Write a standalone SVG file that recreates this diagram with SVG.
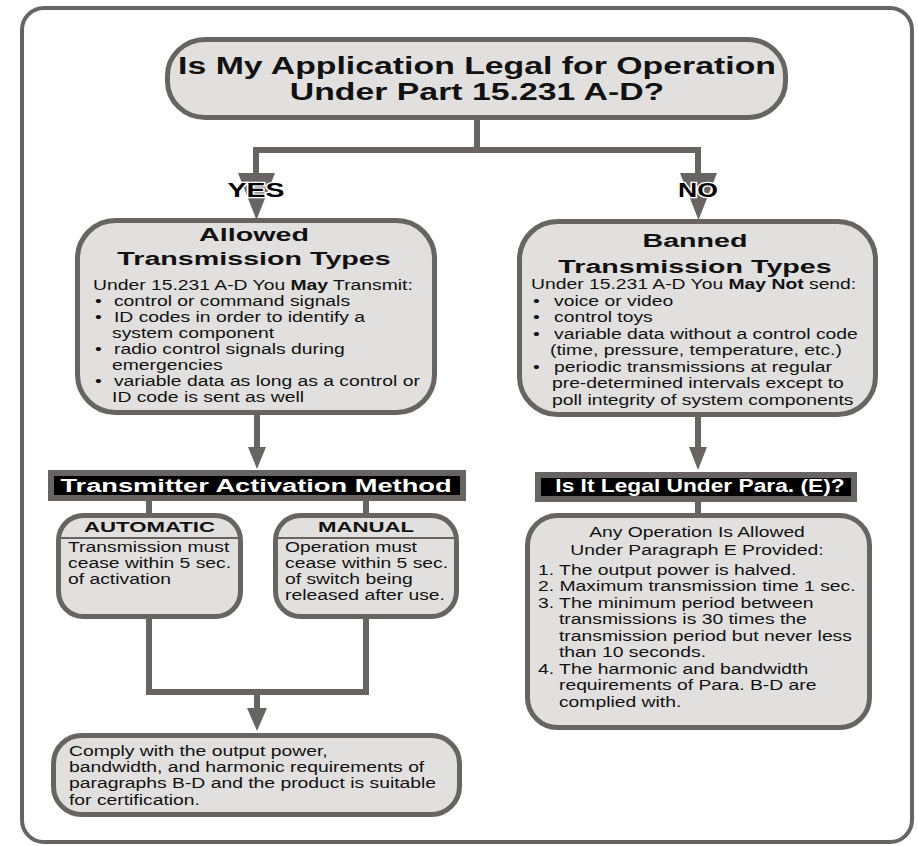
<svg xmlns="http://www.w3.org/2000/svg" width="918" height="846" viewBox="0 0 918 846">
<style>
.box{fill:#e1e0de;stroke:#676463;stroke-width:5}
.bar{fill:#000;stroke:#676463;stroke-width:6}
.ln{fill:none;stroke:#676463;stroke-width:6}
.ah{fill:#676463}
.sep{stroke:#676463;stroke-width:2}
text{font-family:"Liberation Sans",Arial,Helvetica,sans-serif;fill:#111}
.body{font-size:14px}
.ttl{font-size:23px;font-weight:bold;text-anchor:middle}
.hd{font-size:18.5px;font-weight:bold;text-anchor:middle}
.wh{fill:#fff;font-weight:bold;text-anchor:middle}
.sub{font-size:15px;font-weight:bold;text-anchor:middle}
.yn{font-size:20px;font-weight:bold;text-anchor:middle;stroke:#fff;stroke-width:2.5;paint-order:stroke;fill:#000}
.c{text-anchor:middle}
</style>
<rect id="frame" x="22" y="8" width="890" height="834" rx="22" fill="#fff" stroke="#676463" stroke-width="4"/>

<g id="connectors">
<polyline class="ln" points="477,118 477,150 256,150 256,180"/>
<polyline class="ln" points="477,150 698,150 698,180"/>
<polygon class="ah" points="238,173 275,173 256.5,220"/>
<polygon class="ah" points="680,173 717,173 698.5,220"/>
<line class="ln" x1="257" y1="413" x2="257" y2="450"/>
<polygon class="ah" points="248,447 266,447 257,469"/>
<line class="ln" x1="698" y1="415" x2="698" y2="450"/>
<polygon class="ah" points="689,447 707,447 698,470"/>
<line class="ln" x1="149" y1="500" x2="149" y2="515"/>
<line class="ln" x1="366" y1="500" x2="366" y2="515"/>
<line class="ln" x1="698" y1="501" x2="698" y2="515"/>
<polyline class="ln" points="149,617 149,692 366,692 366,617"/>
<line class="ln" x1="257" y1="692" x2="257" y2="712"/>
<polygon class="ah" points="247,708 267,708 257,731"/>
<text class="yn" transform="matrix(1.42 0 0 1 256 0)" x="0" y="197">YES</text>
<text class="yn" transform="matrix(1.33 0 0 1 698 0)" x="0" y="197">NO</text>
</g>

<g id="title">
<rect class="box" x="167.5" y="39.5" width="618" height="78" rx="38" ry="36"/>
<g transform="matrix(1.47 0 0 1 477 0)">
<text class="ttl" x="0" y="74">Is My Application Legal for Operation</text>
<text class="ttl" x="0" y="100">Under Part 15.231 A-D?</text>
</g>
</g>

<g id="allowed">
<rect class="box" x="77.5" y="220.5" width="357" height="192" rx="38"/>
<g transform="matrix(1.55 0 0 1 254 0)">
<text class="hd" x="0" y="241">Allowed</text>
<text class="hd" x="0" y="265.5">Transmission Types</text>
</g>
<g class="body" transform="matrix(1.38 0 0 1 93 0)">
<text class="body" x="0" y="290">Under 15.231 A-D You <tspan font-weight="bold">May</tspan> Transmit:</text>
<text class="body" x="1.4" y="306">•</text><text class="body" x="15.2" y="306">control or command signals</text>
<text class="body" x="1.4" y="322">•</text><text class="body" x="15.2" y="322">ID codes in order to identify a</text>
<text class="body" x="13.8" y="338">system component</text>
<text class="body" x="1.4" y="354">•</text><text class="body" x="15.2" y="354">radio control signals during</text>
<text class="body" x="13.8" y="370">emergencies</text>
<text class="body" x="1.4" y="386">•</text><text class="body" x="15.2" y="386">variable data as long as a control or</text>
<text class="body" x="13.8" y="402">ID code is sent as well</text>
</g>
</g>

<g id="banned">
<rect class="box" x="519.5" y="221.5" width="356" height="193" rx="38"/>
<g transform="matrix(1.55 0 0 1 695 0)">
<text class="hd" x="0" y="247">Banned</text>
<text class="hd" x="0" y="273">Transmission Types</text>
</g>
<g transform="matrix(1.38 0 0 1 531 0)">
<text class="body" x="0" y="289">Under 15.231 A-D You <tspan font-weight="bold">May Not</tspan> send:</text>
<text class="body" x="1.4" y="306">•</text><text class="body" x="16.7" y="306">voice or video</text>
<text class="body" x="1.4" y="322">•</text><text class="body" x="16.7" y="322">control toys</text>
<text class="body" x="1.4" y="339">•</text><text class="body" x="16.7" y="339">variable data without a control code</text>
<text class="body" x="13.8" y="355">(time, pressure, temperature, etc.)</text>
<text class="body" x="1.4" y="372">•</text><text class="body" x="16.7" y="372">periodic transmissions at regular</text>
<text class="body" x="15.2" y="388">pre-determined intervals except to</text>
<text class="body" x="15.2" y="405">poll integrity of system components</text>
</g>
</g>

<g id="activation-method">
<rect class="bar" x="51" y="473" width="412" height="25"/>
<text class="wh" font-size="18" transform="matrix(1.515 0 0 1 256 0)" x="0" y="492">Transmitter Activation Method</text>
</g>

<g id="automatic">
<rect class="box" x="58.5" y="515.5" width="182" height="101" rx="25"/>
<line class="sep" x1="61" y1="538" x2="238" y2="538"/>
<text class="sub" transform="matrix(1.48 0 0 1 149.5 0)" x="0" y="532">AUTOMATIC</text>
<g transform="matrix(1.38 0 0 1 68 0)">
<text class="body" x="0" y="552">Transmission must</text>
<text class="body" x="0" y="568">cease within 5 sec.</text>
<text class="body" x="0" y="584">of activation</text>
</g>
</g>

<g id="manual">
<rect class="box" x="275.5" y="515.5" width="181" height="101" rx="25"/>
<line class="sep" x1="278" y1="538" x2="454" y2="538"/>
<text class="sub" transform="matrix(1.48 0 0 1 366 0)" x="0" y="532">MANUAL</text>
<g transform="matrix(1.38 0 0 1 285 0)">
<text class="body" x="0" y="552">Operation must</text>
<text class="body" x="0" y="568">cease within 5 sec.</text>
<text class="body" x="0" y="584">of switch being</text>
<text class="body" x="0" y="600">released after use.</text>
</g>
</g>

<g id="para-e-question">
<rect class="bar" x="538" y="475" width="316" height="24"/>
<text class="wh" font-size="17.5" transform="matrix(1.3 0 0 1 700 0)" x="0" y="492">Is It Legal Under Para. (E)?</text>
</g>

<g id="para-e">
<rect class="box" x="527.5" y="515.5" width="342" height="212" rx="30"/>
<g transform="matrix(1.38 0 0 1 697 0)">
<text class="body c" x="0" y="537">Any Operation Is Allowed</text>
<text class="body c" x="0" y="555">Under Paragraph E Provided:</text>
</g>
<g transform="matrix(1.38 0 0 1 538 0)">
<text class="body" x="0" y="575">1. The output power is halved.</text>
<text class="body" x="0" y="591.5">2. Maximum transmission time 1 sec.</text>
<text class="body" x="0" y="608">3. The minimum period between</text>
<text class="body" x="15.2" y="624.5">transmissions is 30 times the</text>
<text class="body" x="15.2" y="641">transmission period but never less</text>
<text class="body" x="15.2" y="657.5">than 10 seconds.</text>
<text class="body" x="0" y="674">4. The harmonic and bandwidth</text>
<text class="body" x="15.2" y="690.5">requirements of Para. B-D are</text>
<text class="body" x="15.2" y="707">complied with.</text>
</g>
</g>

<g id="comply">
<rect class="box" x="53.5" y="735.5" width="406" height="79" rx="28"/>
<g transform="matrix(1.38 0 0 1 69 0)">
<text class="body" x="0" y="756">Comply with the output power,</text>
<text class="body" x="0" y="772">bandwidth, and harmonic requirements of</text>
<text class="body" x="0" y="788">paragraphs B-D and the product is suitable</text>
<text class="body" x="0" y="805">for certification.</text>
</g>
</g>
</svg>
